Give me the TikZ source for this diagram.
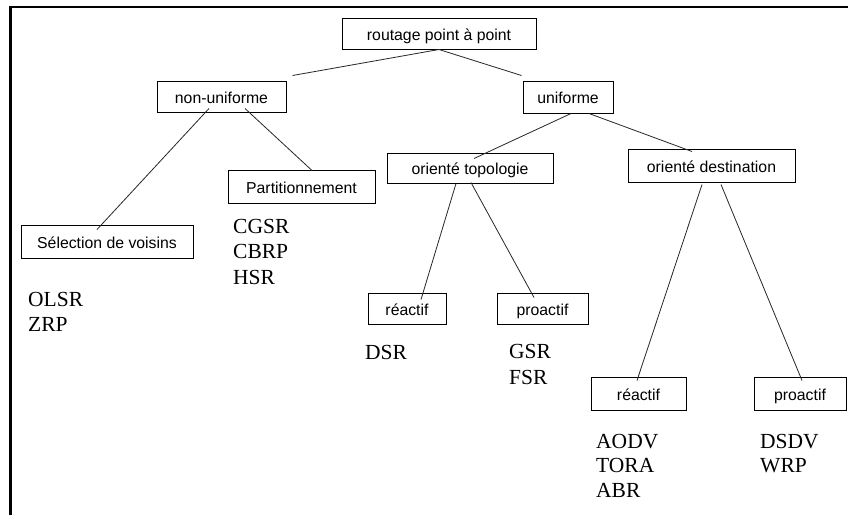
\documentclass[tikz,border=0pt]{standalone}
\usepackage{fontspec}
\setmainfont{Liberation Serif}
\newfontfamily\boxfont{Liberation Sans}
\begin{document}
\begin{tikzpicture}[x=1pt,y=-1pt,
  cat/.style={draw=black, line width=1pt, rectangle, inner sep=0pt,
    font=\boxfont\fontsize{15.8}{18}\selectfont,
    text height=13.5pt, text depth=0pt},
  link/.style={draw=black!85, line width=0.8pt},
  proto/.style={anchor=base west, inner sep=0pt,
    font=\fontsize{21.5}{25}\selectfont},
  frame/.style={draw=black}]
\useasboundingbox (0,0) rectangle (848,515);

% partial frame around the figure
\draw[frame, line width=2pt] (10,7) -- (848,7);
\draw[frame, line width=3pt] (10,6) -- (10,515);

% category boxes
\node[cat, minimum width=194pt, minimum height=31pt] (root)  at (439,33.5)  {routage point à point};
\node[cat, minimum width=129pt, minimum height=31pt] (nonu)  at (221.5,96.5) {non-uniforme};
\node[cat, minimum width=90pt,  minimum height=32pt] (unif)  at (568,97)    {uniforme};
\node[cat, minimum width=147pt, minimum height=33pt] (part)  at (301.5,186.5) {Partitionnement};
\node[cat, minimum width=172pt, minimum height=33pt] (sel)   at (107,241.5) {Sélection de voisins};
\node[cat, minimum width=166pt, minimum height=30pt] (topo)  at (470,168)   {orienté topologie};
\node[cat, minimum width=167pt, minimum height=33pt] (dest)  at (711.5,165.5) {orienté destination};
\node[cat, minimum width=78pt,  minimum height=31pt] (reacA) at (407,308.5) {réactif};
\node[cat, minimum width=91pt,  minimum height=31pt] (proaA) at (542.5,308.5) {proactif};
\node[cat, minimum width=95pt,  minimum height=33pt] (reacB) at (638.5,393.5) {réactif};
\node[cat, minimum width=92pt,  minimum height=33pt] (proaB) at (800,393.5) {proactif};

% tree branches
\draw[link] (root.south) -- ([xshift=6pt,yshift=5pt]nonu.north east);
\draw[link] (root.south) -- ([xshift=-1pt,yshift=5pt]unif.north west);
\draw[link] ([xshift=-12.5pt,yshift=4pt]nonu.south) -- ([xshift=-10pt,yshift=-5pt]sel.north);
\draw[link] ([xshift=23.5pt,yshift=4pt]nonu.south) -- ([xshift=10.5pt,yshift=-1pt]part.north);
\draw[link] ([xshift=3pt]unif.south) -- ([xshift=4pt,yshift=-6pt]topo.north);
\draw[link] ([xshift=21pt]unif.south) -- ([xshift=-19.5pt,yshift=-3pt]dest.north);
\draw[link] ([xshift=-14pt]topo.south) -- ([xshift=14pt,yshift=-7pt]reacA.north);
\draw[link] ([xshift=1pt,yshift=1pt]topo.south) -- ([xshift=-8.5pt,yshift=-5pt]proaA.north);
\draw[link] ([xshift=-9.5pt,yshift=-2pt]dest.south) -- ([xshift=-1.5pt,yshift=-4pt]reacB.north);
\draw[link] ([xshift=9.5pt,yshift=-2pt]dest.south) -- ([xshift=2pt,yshift=-4pt]proaB.north);

% protocol lists
\node[proto] (olsr) at (28,306) {OLSR};
\node[proto] (zrp)  at (28,331) {ZRP};
\node[proto] (cgsr) at (233,233) {CGSR};
\node[proto] (cbrp) at (233,258) {CBRP};
\node[proto] (hsr)  at (233,284) {HSR};
\node[proto] (dsr)  at (365,359) {DSR};
\node[proto] (gsr)  at (509,358) {GSR};
\node[proto] (fsr)  at (509,384) {FSR};
\node[proto] (aodv) at (596,448) {AODV};
\node[proto] (tora) at (596,472) {TORA};
\node[proto] (abr)  at (596,497) {ABR};
\node[proto] (dsdv) at (760,448) {DSDV};
\node[proto] (wrp)  at (760,472) {WRP};
\end{tikzpicture}
\end{document}
